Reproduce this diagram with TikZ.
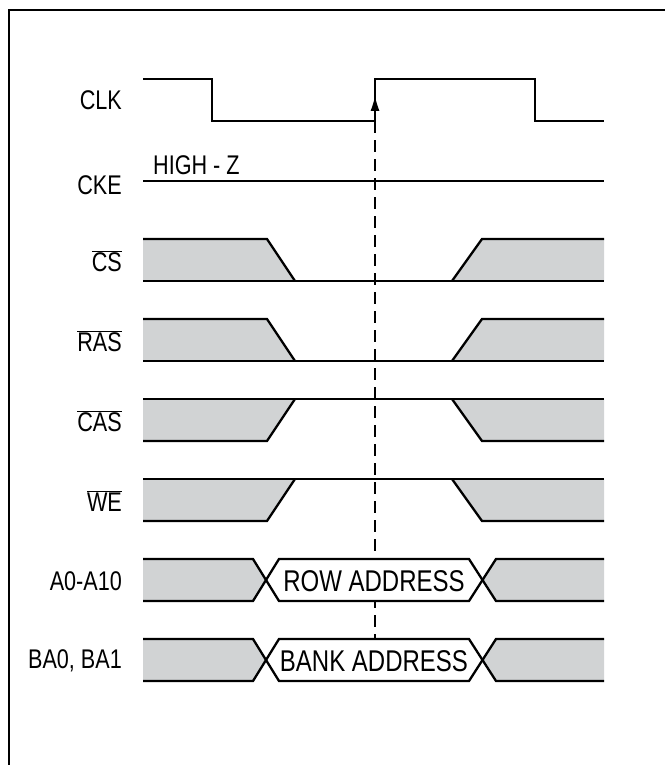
\documentclass[tikz,border=0pt]{standalone}
\usepackage{fontspec}
\setmainfont{Liberation Sans}[FakeStretch=0.8]
\usepackage{tikz}
\usetikzlibrary{arrows.meta,positioning}
\definecolor{busgray}{RGB}{209,211,212}

\begin{document}
\begin{tikzpicture}[x=1pt, y=-1pt,
    wave/.style={line width=2.3pt},
    lbl/.style={anchor=east, inner sep=0pt, font=\fontsize{27}{30}\selectfont},
    addr/.style={inner sep=0pt, font=\fontsize{30}{32}\selectfont}]
    \useasboundingbox (0,0) rectangle (665,765);

    % Frame
    \draw[line width=2.5pt] (9,765) -- (9,10) -- (665,10);

    % Signal names
    \node[lbl] (clk) at (122,100) {CLK};
    \node[lbl] (cke) at (122,185) {CKE};
    \node[lbl] (cs) at (122,261) {$\overline{\mbox{CS}}$};
    \node[lbl] (ras) at (122,341) {$\overline{\mbox{RAS}}$};
    \node[lbl] (cas) at (122,421) {$\overline{\mbox{CAS}}$};
    \node[lbl] (we) at (122,501) {$\overline{\mbox{WE}}$};
    \node[lbl] (addr) at (122,581) {A0-A10};
    \node[lbl] (bank) at (122,661) {BA0, BA1};

    % Reference edge
    \coordinate (edge) at (375,121);
    \coordinate (edgeend) at (375,660);
    \draw[line width=1.3pt, dash pattern=on 12pt off 7pt] (edge) -- (edgeend);

    % Clock and clock enable
    \draw[wave] (143,79) -- (212,79) -- (212,121) -- (375,121) -- (375,79)
        -- (535,79) -- (535,121) -- (604,121);
    \draw[-{Latex[length=15pt,width=9pt]}, line width=1pt] (375,115) -- (375,96);
    \draw[wave] (143,181) -- (604,181);
    \node[anchor=south west, inner sep=0pt, font=\fontsize{27}{30}\selectfont] (highz) at (153,175) {HIGH - Z};

    % CS, RAS go low
    \foreach \y in {260,340} {
        \fill[busgray] (143,\y-21) -- (267,\y-21) -- (295,\y+21) -- (143,\y+21) -- cycle;
        \fill[busgray] (604,\y-21) -- (482,\y-21) -- (452,\y+21) -- (604,\y+21) -- cycle;
        \draw[wave] (143,\y-21) -- (267,\y-21) -- (295,\y+21);
        \draw[wave] (452,\y+21) -- (482,\y-21) -- (604,\y-21);
        \draw[wave] (143,\y+21) -- (604,\y+21);
    }

    % CAS, WE stay high
    \foreach \y in {420,500} {
        \fill[busgray] (143,\y-21) -- (295,\y-21) -- (267,\y+21) -- (143,\y+21) -- cycle;
        \fill[busgray] (604,\y-21) -- (452,\y-21) -- (482,\y+21) -- (604,\y+21) -- cycle;
        \draw[wave] (143,\y+21) -- (267,\y+21) -- (295,\y-21);
        \draw[wave] (452,\y-21) -- (482,\y+21) -- (604,\y+21);
        \draw[wave] (143,\y-21) -- (604,\y-21);
    }

    % Address busses
    \foreach \y/\txt/\nm in {580/ROW ADDRESS/rowaddr, 660/BANK ADDRESS/bankaddr} {
        \fill[busgray] (143,\y-21) -- (253,\y-21) -- (266,\y) -- (253,\y+21) -- (143,\y+21) -- cycle;
        \fill[busgray] (604,\y-21) -- (496,\y-21) -- (482,\y) -- (496,\y+21) -- (604,\y+21) -- cycle;
        \fill[white] (279,\y-21) -- (469,\y-21) -- (482,\y) -- (469,\y+21) -- (279,\y+21) -- (266,\y) -- cycle;
        \draw[wave] (143,\y-21) -- (253,\y-21) -- (279,\y+21) -- (469,\y+21) -- (496,\y-21) -- (604,\y-21);
        \draw[wave] (143,\y+21) -- (253,\y+21) -- (279,\y-21) -- (469,\y-21) -- (496,\y+21) -- (604,\y+21);
        \node[addr] (\nm) at (374,\y+1) {\txt};
    }
\end{tikzpicture}
\end{document}
